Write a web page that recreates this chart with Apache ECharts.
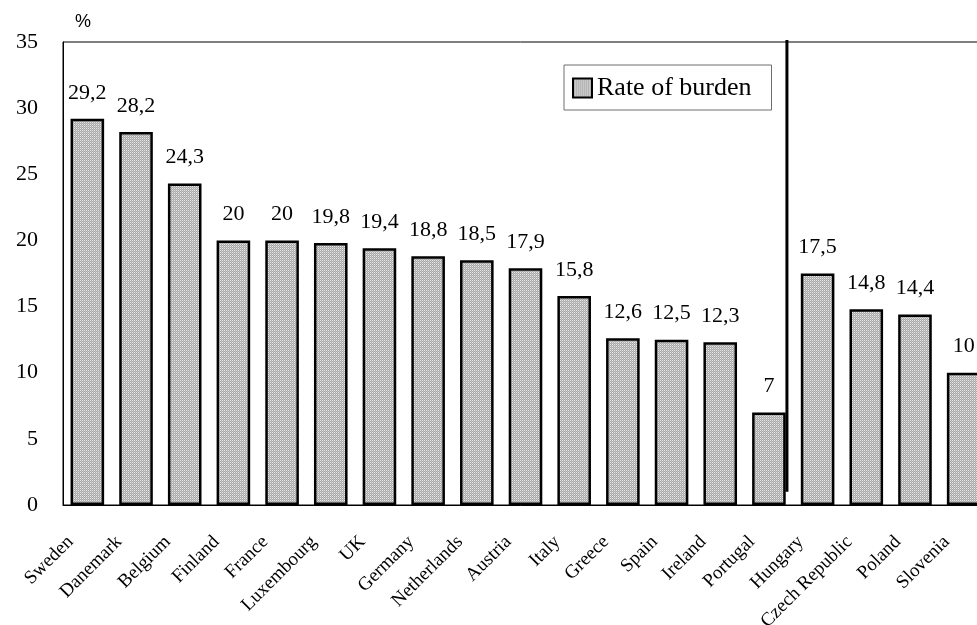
<!DOCTYPE html>
<html>
<head>
<meta charset="utf-8">
<script src="https://cdn.jsdelivr.net/npm/echarts@6/dist/echarts.min.js"></script>
<style>
  html, body { margin: 0; padding: 0; background: #fff; }
  #chart { width: 977px; height: 625px; }
</style>
</head>
<body>
<div id="chart"></div>
<script>
// Rate of burden by country (%)
const countries = ['Sweden', 'Danemark', 'Belgium', 'Finland', 'France', 'Luxembourg', 'UK',
  'Germany', 'Netherlands', 'Austria', 'Italy', 'Greece', 'Spain', 'Ireland', 'Portugal',
  'Hungary', 'Czech Republic', 'Poland', 'Slovenia'];
const burden = [29.2, 28.2, 24.3, 20, 20, 19.8, 19.4, 18.8, 18.5, 17.9, 15.8, 12.6, 12.5, 12.3, 7,
  17.5, 14.8, 14.4, 10];
// separator between the two country groups, in category units
const separatorX = [14.37, 14.37];
const separatorY = [35.15, 1];
const yTicks = [0, 5, 10, 15, 20, 25, 30, 35];

// fine dotted grey fill
function dotPattern() {
  const c = document.createElement('canvas');
  c.width = 2; c.height = 2;
  const g = c.getContext('2d');
  g.fillStyle = '#a8a8a8'; g.fillRect(0, 0, 2, 2);
  g.fillStyle = '#e8e8e8'; g.fillRect(0, 0, 1, 1);
  g.fillStyle = '#c2c2c2'; g.fillRect(1, 1, 1, 1);
  return c;
}
const fill = { image: dotPattern(), repeat: 'repeat' };
const serif = '"Liberation Serif", "Times New Roman", serif';

const chart = echarts.init(document.getElementById('chart'), null, { renderer: 'canvas' });
chart.setOption({
  animation: false,
  backgroundColor: '#fff',
  grid: {
    left: 63, top: 42, width: 925, height: 463,
    outerBoundsMode: 'none', containLabel: false,
    show: true, borderColor: '#000', borderWidth: 1, backgroundColor: 'transparent'
  },
  legend: {
    data: ['Rate of burden'],
    left: 564, top: 65,
    orient: 'vertical',
    padding: [10, 20, 9, 8],
    borderColor: '#6e6e6e', borderWidth: 1, backgroundColor: '#fff',
    itemWidth: 19, itemHeight: 19, itemGap: 0,
    icon: 'rect',
    itemStyle: { color: fill, borderColor: '#000', borderWidth: 2 },
    textStyle: { fontFamily: serif, fontSize: 26, color: '#000' }
  },
  xAxis: [{
    type: 'category',
    data: countries,
    axisLine: { show: true, onZero: false, lineStyle: { color: '#000', width: 1 } },
    axisTick: { show: false },
    axisLabel: {
      interval: 0, rotate: 45, margin: 17,
      padding: [0, 24, 0, 0],
      fontFamily: serif, fontSize: 19, color: '#000'
    },
    splitLine: { show: false }
  }, {
    type: 'value', min: -0.5, max: 18.5, show: false
  }],
  yAxis: {
    type: 'value', min: 0, max: 35, interval: 5,
    name: '%',
    nameLocation: 'end', nameGap: 11,
    nameTextStyle: { fontFamily: '"Liberation Sans", Arial, sans-serif', fontSize: 18, color: '#000', align: 'left', padding: [0, 0, 0, 12] },
    axisLine: { show: true, onZero: false, lineStyle: { color: '#000', width: 1 } },
    axisTick: { show: false },
    splitLine: { show: false },
    axisLabel: {
      margin: 25, fontFamily: serif, fontSize: 22, color: '#000',
      formatter: v => yTicks.includes(v) ? String(v) : ''
    }
  },
  series: [{
    name: 'Rate of burden',
    type: 'bar',
    data: burden,
    barCategoryGap: '31%',
    itemStyle: { color: fill, borderColor: '#000', borderWidth: 2.5 },
    label: {
      show: true, position: 'top', distance: 15,
      fontFamily: serif, fontSize: 22, color: '#000',
      formatter: p => String(p.value).replace('.', ',')
    }
  }, {
    name: 'separator',
    type: 'line',
    xAxisIndex: 1,
    data: separatorX.map((x, i) => [x, separatorY[i]]),
    symbol: 'none', clip: false, silent: true,
    lineStyle: { color: '#000', width: 3 },
    z: 5
  }]
});
</script>
</body>
</html>
